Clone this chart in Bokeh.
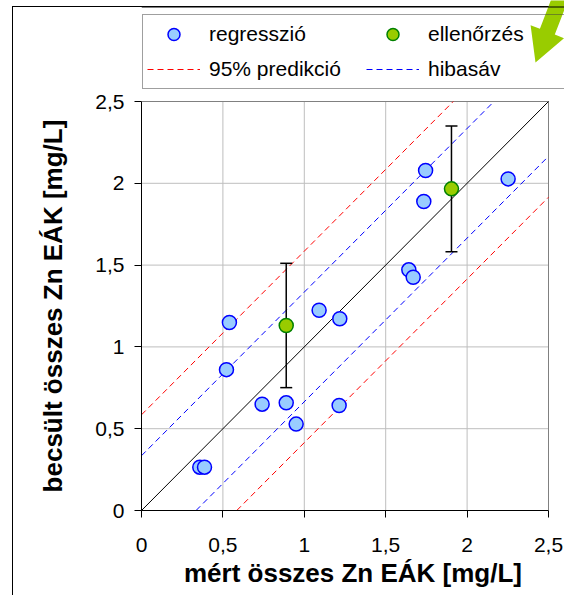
from bokeh.plotting import figure
from bokeh.models import Range1d, FixedTicker, Legend, LegendItem
from bokeh.embed import file_html
from bokeh.resources import INLINE

# ---- data ----
reg_x = [0.540, 0.522, 0.741, 0.889, 0.950, 1.214, 1.091, 1.218, 0.358, 0.387,
         1.642, 1.669, 1.734, 1.745, 2.252]
reg_y = [1.149, 0.861, 0.650, 0.658, 0.528, 0.642, 1.224, 1.172, 0.265, 0.265,
         1.471, 1.426, 1.889, 2.078, 2.027]
chk_x = [0.889, 1.904]
chk_y = [1.131, 1.966]
chk_err = [0.38, 0.385]
pred_band = 0.585   # 95% predikció
err_band = 0.335    # hibasáv
tick_vals = [0, 0.5, 1, 1.5, 2, 2.5]
tick_labels = ["0", "0,5", "1", "1,5", "2", "2,5"]
legend_labels = ["regresszió", "ellenőrzés", "95% predikció", "hibasáv"]
x_title = "mért összes Zn EÁK [mg/L]"
y_title = "becsült összes Zn EÁK [mg/L]"

FONT = "Liberation Sans"
W, H = 564, 595
# pixel layout of the plot area (canvas px)
PL, PR, PT, PB = 141, 548, 101, 510
lo, hi = tick_vals[0], tick_vals[-1]
ppx = (PR - PL) / (hi - lo)
ppy = (PB - PT) / (hi - lo)

def dx(px):
    return (px - PL) / ppx

def dy(py):
    return (PB - py) / ppy

# frame covers everything right of the y axis and above the x axis
p = figure(width=W, height=H, output_backend="svg", toolbar_location=None,
           x_range=Range1d(lo, dx(W)), y_range=Range1d(lo, dy(0)),
           min_border=0, min_border_left=PL, min_border_right=0,
           min_border_top=0, min_border_bottom=H - PB)
p.title.visible = False
p.outline_line_color = None
p.background_fill_color = None
p.border_fill_color = None
p.grid.visible = False
p.styles = {"box-shadow": "inset 12px 6px 0 0 white, inset 13px 7px 0 0 black",
            "background-color": "white"}

for ax in (p.xaxis[0], p.yaxis[0]):
    ax.ticker = FixedTicker(ticks=tick_vals)
    ax.bounds = (lo, hi)
    ax.major_label_overrides = {v: s for v, s in zip(tick_vals, tick_labels)}
    ax.major_label_text_font = FONT
    ax.major_label_text_font_size = "21px"
    ax.major_label_text_color = "black"
    ax.axis_line_color = "black"
    ax.major_tick_line_color = "black"
    ax.major_tick_out = 7
    ax.major_tick_in = 0
    ax.minor_tick_line_color = None
    ax.axis_label_text_font = FONT
    ax.axis_label_text_font_size = "26px"
    ax.axis_label_text_font_style = "bold"
    ax.axis_label_text_color = "black"

p.xaxis.axis_label = x_title
# the label is centred on the whole frame; pad its end so that the visible
# text is centred on the 0..2.5 plot area as in the original
p.yaxis.axis_label = y_title + "\u00a0" * 14
p.xaxis.major_label_standoff = 20
p.xaxis.axis_label_standoff = 3
p.yaxis.major_label_standoff = 10
p.yaxis.axis_label_standoff = 24

# ---- grid and plot-area border (inside 0..2.5 only) ----
inner = tick_vals[1:-1]
p.segment(x0=inner, y0=[lo] * len(inner), x1=inner, y1=[hi] * len(inner),
          line_color="#BEBEBE", line_width=1)
p.segment(x0=[lo] * len(inner), y0=inner, x1=[hi] * len(inner), y1=inner,
          line_color="#BEBEBE", line_width=1)
p.segment(x0=[lo, hi], y0=[hi, lo], x1=[hi, hi], y1=[hi, hi],
          line_color="#808080", line_width=1)

# ---- diagonal and bands, clipped to the 0..2.5 square ----
def band(c):
    x0, x1 = max(lo, lo - c), min(hi, hi - c)
    return [x0, x1], [x0 + c, x1 + c]

bx, by = band(pred_band)
r_red = p.line(bx, by, line_color="#FF0000", line_dash="6 4", line_width=1)
bx, by = band(-pred_band)
p.line(bx, by, line_color="#FF0000", line_dash="6 4", line_width=1)
bx, by = band(err_band)
r_blue = p.line(bx, by, line_color="#0000FF", line_dash="6 4", line_width=1)
bx, by = band(-err_band)
p.line(bx, by, line_color="#0000FF", line_dash="6 4", line_width=1)
bx, by = band(0)
p.line(bx, by, line_color="black", line_width=1)

# ---- error bars ----
upper = [y + e for y, e in zip(chk_y, chk_err)]
lower = [y - e for y, e in zip(chk_y, chk_err)]
p.segment(x0=chk_x, y0=lower, x1=chk_x, y1=upper, line_color="black", line_width=1.5)
p.scatter(chk_x + chk_x, upper + lower, marker="dash", size=12,
          line_color="black", line_width=1.5)

# ---- points ----
r_reg = p.scatter(reg_x, reg_y, size=14, fill_color="#99CCFF", line_color="#0000FF",
                  line_width=1.5)
r_chk = p.scatter(chk_x, chk_y, size=14, fill_color="#99CC00", line_color="#008000",
                  line_width=1.5)

# ---- green arrow decoration (top right) ----
arrow_px = [(535, 62), (530.1, 24.8), (539.4, 28.3), (568.1, -46.3), (583.0, -40.5),
            (554.3, 34.1), (563.6, 37.7)]
p.patch([dx(a) for a, b in arrow_px], [dy(b) for a, b in arrow_px],
        fill_color="#99CC00", line_color=None)

# outer frame top line (part right of the y axis)
p.line([lo, dx(W)], [dy(6.5), dy(6.5)], line_color="black", line_width=1)

# ---- legend ----
legend = Legend(items=[
    LegendItem(label=legend_labels[0], renderers=[r_reg]),
    LegendItem(label=legend_labels[1], renderers=[r_chk]),
    LegendItem(label=legend_labels[2], renderers=[r_red]),
    LegendItem(label=legend_labels[3], renderers=[r_blue]),
], orientation="horizontal", ncols=2, location=(1, PB - 89),
    label_text_font=FONT, label_text_font_size="21px", label_text_color="black",
    glyph_width=53, glyph_height=30, label_height=30, label_standoff=9,
    label_width=152, spacing=5, padding=4, margin=0,
    border_line_color="#404040", border_line_width=1,
    background_fill_alpha=0)
p.add_layout(legend, "center")

open("out.html", "w").write(file_html(p, INLINE))
